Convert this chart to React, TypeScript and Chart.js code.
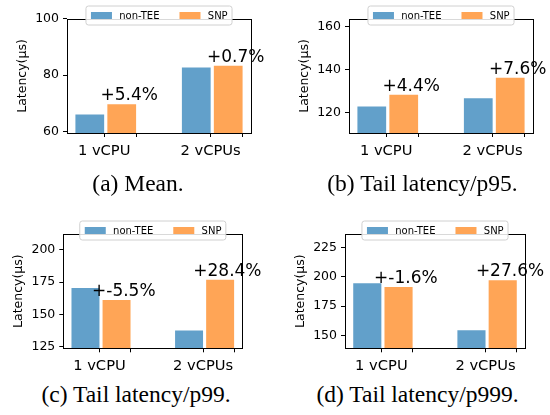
import React, { useEffect, useRef } from "react";
import { Chart, registerables } from "chart.js";

Chart.register(...registerables);

// ---------------- data ----------------
const categories = ["1 vCPU", "2 vCPUs"];
const seriesNames = ["non-TEE", "SNP"];

const meanNonTEE = [66.0, 82.7];
const meanSNP = [69.6, 83.3];
const meanLabels = ["+5.4%", "+0.7%"];
const meanTicks = [60, 80, 100];

const p95NonTEE = [122.9, 126.7];
const p95SNP = [128.4, 136.3];
const p95Labels = ["+4.4%", "+7.6%"];
const p95Ticks = [120, 140, 160];

const p99NonTEE = [170.5, 137.7];
const p99SNP = [161.2, 176.8];
const p99Labels = ["+-5.5%", "+28.4%"];
const p99Ticks = [125, 150, 175, 200];

const p999NonTEE = [194.5, 154.5];
const p999SNP = [191.4, 197.2];
const p999Labels = ["+-1.6%", "+27.6%"];
const p999Ticks = [150, 175, 200, 225];

const captions = [
  "(a) Mean.",
  "(b) Tail latency/p95.",
  "(c) Tail latency/p99.",
  "(d) Tail latency/p999.",
];

// ---------------- style / layout ----------------
const BLUE = "#62a0ca";
const ORANGE = "#ffa556";
const SANS = "'DejaVu Sans', sans-serif";
const SERIF = "'Liberation Serif', 'Times New Roman', serif";
const CW = 275;
const CH = 180;
const BAR_OFFSET = 0.15; // bar centre offset from group position (category units)
const LABEL_TICK_OFFSET = -0.015;
const EXTRA_TICK_OFFSET = 0.285;
const NOTE_OFFSET = 0.22;

type Panel = {
  nonTEE: number[];
  snp: number[];
  notes: string[];
  yTicks: number[];
  caption: string;
  x: number;
  y: number;
  area: { left: number; right: number; top: number; bottom: number };
  capX: number;
  capY: number;
};

const panels: Panel[] = [
  { nonTEE: meanNonTEE, snp: meanSNP, notes: meanLabels, yTicks: meanTicks, caption: captions[0],
    x: 0, y: 0, area: { left: 67, right: 251, top: 19, bottom: 133 }, capX: 138, capY: 172 },
  { nonTEE: p95NonTEE, snp: p95SNP, notes: p95Labels, yTicks: p95Ticks, caption: captions[1],
    x: 275, y: 0, area: { left: 74, right: 258, top: 19, bottom: 133 }, capX: 422.5, capY: 172 },
  { nonTEE: p99NonTEE, snp: p99SNP, notes: p99Labels, yTicks: p99Ticks, caption: captions[2],
    x: 0, y: 200, area: { left: 63.3, right: 242.3, top: 34, bottom: 148.3 }, capX: 136, capY: 382.5 },
  { nonTEE: p999NonTEE, snp: p999SNP, notes: p999Labels, yTicks: p999Ticks, caption: captions[3],
    x: 275, y: 200, area: { left: 70, right: 250, top: 34, bottom: 148.3 }, capX: 417.5, capY: 382.5 },
];

const align = (v: number) => Math.round(v - 0.5) + 0.5;

function makeDecorPlugin(p: Panel) {
  return {
    id: "decor",
    afterDatasetsDraw(chart: any) {
      const { ctx, chartArea: a, scales } = chart;
      const xs = scales.x;
      const ys = scales.y;
      ctx.save();
      // frame
      ctx.strokeStyle = "#000";
      ctx.lineWidth = 1;
      const l = align(a.left), r = align(a.right), t = align(a.top), b = align(a.bottom);
      ctx.strokeRect(l, t, r - l, b - t);
      // annotations
      ctx.fillStyle = "#000";
      ctx.font = `17px ${SANS}`;
      ctx.textAlign = "center";
      ctx.textBaseline = "alphabetic";
      p.notes.forEach((txt, i) => {
        const x = xs.getPixelForValue(i + NOTE_OFFSET);
        const y = ys.getPixelForValue(p.snp[i]) - 4;
        ctx.fillText(txt, x, y);
      });
      ctx.restore();
    },
    afterDraw(chart: any) {
      const { ctx, chartArea: a } = chart;
      ctx.save();
      ctx.font = `10px ${SANS}`;
      const w0 = ctx.measureText(seriesNames[0]).width;
      const w1 = ctx.measureText(seriesNames[1]).width;
      const padL = 5, patchW = 21, patchH = 7, gapT = 7.3, gapS = 20, padR = 4.4;
      const boxW = padL + patchW + gapT + w0 + gapS + patchW + gapT + w1 + padR;
      const boxH = 19;
      const cx = (a.left + a.right) / 2;
      const bx = cx - boxW / 2;
      const by = a.top - 13;
      // box
      const rad = 2.5;
      ctx.beginPath();
      ctx.moveTo(bx + rad, by);
      ctx.lineTo(bx + boxW - rad, by);
      ctx.quadraticCurveTo(bx + boxW, by, bx + boxW, by + rad);
      ctx.lineTo(bx + boxW, by + boxH - rad);
      ctx.quadraticCurveTo(bx + boxW, by + boxH, bx + boxW - rad, by + boxH);
      ctx.lineTo(bx + rad, by + boxH);
      ctx.quadraticCurveTo(bx, by + boxH, bx, by + boxH - rad);
      ctx.lineTo(bx, by + rad);
      ctx.quadraticCurveTo(bx, by, bx + rad, by);
      ctx.closePath();
      ctx.fillStyle = "rgba(255,255,255,0.85)";
      ctx.fill();
      ctx.strokeStyle = "#d0d0d0";
      ctx.lineWidth = 1;
      ctx.stroke();
      // entries
      const cy = by + boxH / 2;
      let x = bx + padL;
      const colors = [BLUE, ORANGE];
      const widths = [w0, w1];
      ctx.textBaseline = "middle";
      ctx.textAlign = "left";
      for (let i = 0; i < 2; i++) {
        ctx.fillStyle = colors[i];
        ctx.fillRect(x, cy - patchH / 2, patchW, patchH);
        x += patchW + gapT;
        ctx.fillStyle = "#000";
        ctx.fillText(seriesNames[i], x, cy + 0.5);
        x += widths[i] + gapS;
      }
      ctx.restore();
    },
  };
}

function PanelChart({ p }: { p: Panel }) {
  const ref = useRef<HTMLCanvasElement | null>(null);
  useEffect(() => {
    if (!ref.current) return;
    const allVals = [...p.nonTEE, ...p.snp];
    const yMin = Math.min(...allVals) * 0.9;
    const yMax = Math.max(...allVals) * 1.2;
    const xTickVals: number[] = [];
    const xTickLabels: string[] = [];
    categories.forEach((c, i) => {
      xTickVals.push(i + LABEL_TICK_OFFSET);
      xTickLabels.push(c);
      xTickVals.push(i + EXTRA_TICK_OFFSET);
      xTickLabels.push("");
    });
    const titleFont = 12.5;
    const titleLH = titleFont * 1.2;
    const padLeft = p.area.left - 44.5 - titleLH / 2;
    const chart = new Chart(ref.current, {
      type: "bar",
      data: {
        datasets: [
          {
            label: seriesNames[0],
            data: p.nonTEE.map((v, i) => ({ x: i - BAR_OFFSET, y: v })),
            backgroundColor: BLUE,
            borderWidth: 0,
          },
          {
            label: seriesNames[1],
            data: p.snp.map((v, i) => ({ x: i + BAR_OFFSET, y: v })),
            backgroundColor: ORANGE,
            borderWidth: 0,
          },
        ] as any,
      },
      options: {
        animation: false,
        responsive: false,
        events: [],
        grouped: false,
        barPercentage: 0.9,
        categoryPercentage: 1,
        layout: {
          padding: { left: padLeft, right: CW - p.area.right, top: p.area.top, bottom: 0 },
        },
        plugins: { legend: { display: false }, title: { display: false }, tooltip: { enabled: false } },
        scales: {
          x: {
            type: "linear",
            min: -0.364,
            max: 1.364,
            bounds: "data",
            offset: false,
            border: { display: false },
            grid: {
              display: true,
              offset: false,
              drawOnChartArea: false,
              drawTicks: true,
              tickLength: 4,
              tickColor: "#000",
              tickWidth: 1,
            },
            ticks: {
              autoSkip: false,
              maxRotation: 0,
              padding: 5,
              color: "#000",
              font: { family: SANS, size: 14.7 },
              callback: (_v: any, idx: number) => xTickLabels[idx] ?? "",
            },
            afterBuildTicks: (axis: any) => {
              axis.ticks = xTickVals.map((v) => ({ value: v }));
            },
            afterFit: (s: any) => {
              s.height = CH - p.area.bottom;
            },
          } as any,
          y: {
            type: "linear",
            min: yMin,
            max: yMax,
            bounds: "data",
            border: { display: false },
            grid: {
              display: true,
              drawOnChartArea: false,
              drawTicks: true,
              tickLength: 4,
              tickColor: "#000",
              tickWidth: 1,
            },
            ticks: {
              padding: 4,
              color: "#000",
              font: { family: SANS, size: 12.5 },
            },
            afterBuildTicks: (axis: any) => {
              axis.ticks = p.yTicks.map((v) => ({ value: v }));
            },
            afterFit: (s: any) => {
              s.width = p.area.left - padLeft;
            },
            title: {
              display: true,
              text: "Latency(μs)",
              color: "#000",
              padding: 0,
              font: { family: SANS, size: titleFont, lineHeight: 1.2 },
            },
          } as any,
        },
      } as any,
      plugins: [makeDecorPlugin(p)],
    });
    return () => chart.destroy();
  }, [p]);
  return (
    <canvas
      ref={ref}
      width={CW}
      height={CH}
      style={{ position: "absolute", left: p.x, top: p.y, width: CW, height: CH }}
    />
  );
}

export default function App() {
  return (
    <div style={{ position: "absolute", left: 0, top: 0, width: 550, height: 415, background: "#fff", overflow: "hidden" }}>
      {panels.map((p, i) => (
        <PanelChart key={i} p={p} />
      ))}
      {panels.map((p, i) => (
        <div
          key={"c" + i}
          style={{
            position: "absolute",
            left: p.capX - 150,
            top: p.capY,
            width: 300,
            textAlign: "center",
            fontFamily: SERIF,
            fontSize: 23.5,
            lineHeight: "23.5px",
            color: "#000",
            whiteSpace: "nowrap",
          }}
        >
          {p.caption}
        </div>
      ))}
    </div>
  );
}
